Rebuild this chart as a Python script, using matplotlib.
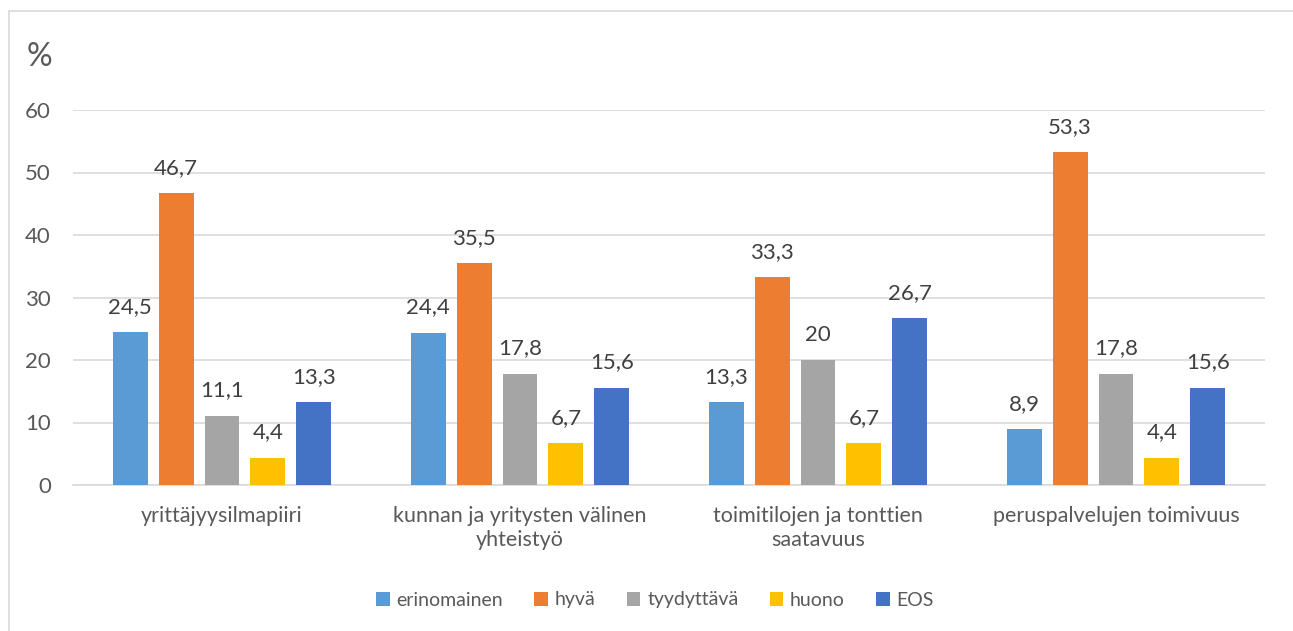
import numpy as np
import matplotlib.pyplot as plt
from matplotlib.patches import Rectangle

# data
categories = ['yrittäjyysilmapiiri', 'kunnan ja yritysten välinen\nyhteistyö',
              'toimitilojen ja tonttien\nsaatavuus', 'peruspalvelujen toimivuus']
series_names = ['erinomainen', 'hyvä', 'tyydyttävä', 'huono', 'EOS']
erinomainen = [24.5, 24.4, 13.3, 8.9]
hyva = [46.7, 35.5, 33.3, 53.3]
tyydyttava = [11.1, 17.8, 20.0, 17.8]
huono = [4.4, 6.7, 6.7, 4.4]
eos = [13.3, 15.6, 26.7, 15.6]
yticks = [0, 10, 20, 30, 40, 50, 60]

colors = ['#5B9BD5', '#ED7D31', '#A5A5A5', '#FFC000', '#4472C4']
text_color = '#595959'
label_color = '#404040'

plt.rcParams['font.family'] = ['Lato', 'DejaVu Sans']

fig = plt.figure(figsize=(12.93, 6.31), dpi=100)
ax = fig.add_axes([73 / 1293, (631 - 485) / 631, (1265 - 73) / 1293, 375 / 631])

x = np.arange(len(categories))
width = 0.117
pitch = 0.154
all_series = [erinomainen, hyva, tyydyttava, huono, eos]
for i, (name, vals) in enumerate(zip(series_names, all_series)):
    pos = x + (i - 2) * pitch
    bars = ax.bar(pos, vals, width, color=colors[i], label=name, zorder=3)
    for b, v in zip(bars, vals):
        ax.annotate(f'{v:g}'.replace('.', ','), (b.get_x() + b.get_width() / 2, v),
                    xytext=(0, 11), textcoords='offset points', ha='center', va='bottom',
                    fontsize=16, color=label_color)

ax.set_xlim(-0.5, len(categories) - 0.5)
ax.set_ylim(0, 60)
ax.set_yticks(yticks)
ax.set_xticks(x)
ax.set_xticklabels(categories, fontsize=15.5, color=text_color, linespacing=1.25)
ax.tick_params(axis='y', length=0, pad=16, labelsize=16, labelcolor=text_color)
ax.tick_params(axis='x', length=0, pad=15)
ax.grid(axis='y', color='#D9D9D9', linewidth=1.2, zorder=0)
for s in ['top', 'right', 'left']:
    ax.spines[s].set_visible(False)
ax.spines['bottom'].set_color('#D9D9D9')
ax.spines['bottom'].set_linewidth(1.2)

fig.text(27 / 1293, 1 - 57 / 631, '%', fontsize=23, color=text_color, va='center', ha='left')

leg = fig.legend(loc='center', bbox_to_anchor=(655 / 1293, 1 - 600 / 631), ncol=5,
                 frameon=False, fontsize=14, handlelength=0.7, handleheight=0.7,
                 handletextpad=0.35, columnspacing=1.6)
for t in leg.get_texts():
    t.set_color(text_color)

# chart border
fig.add_artist(Rectangle((9 / 1293, -0.05), 1.1, 1 - 11 / 631 + 0.05, transform=fig.transFigure,
                         fill=False, edgecolor='#D9D9D9', linewidth=1.2))

fig.savefig('out.png', dpi=100)
